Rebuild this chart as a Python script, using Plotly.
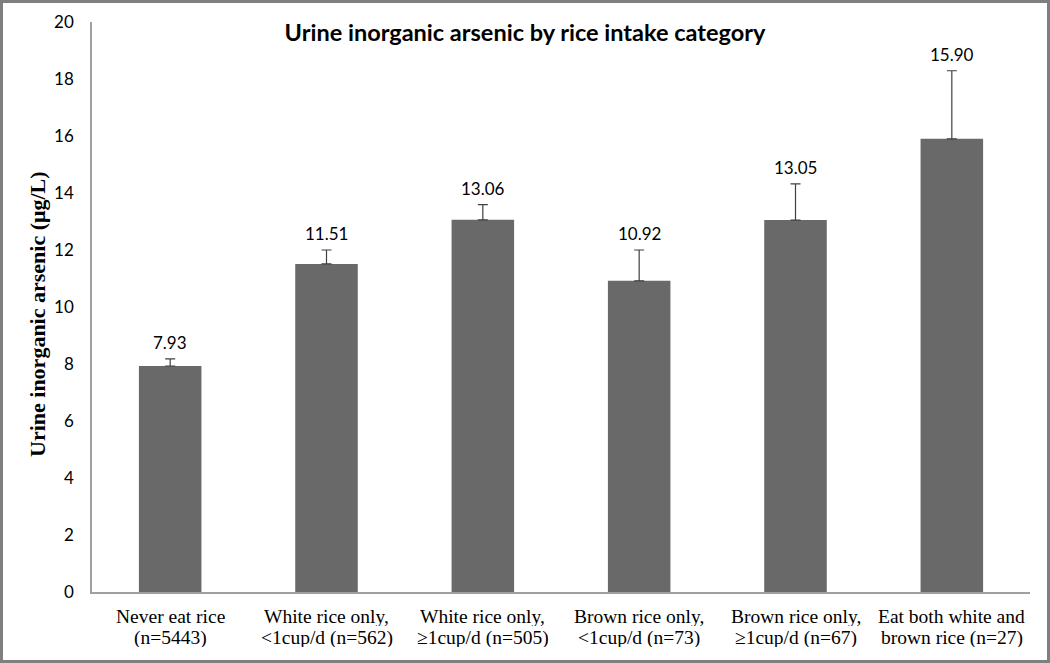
import plotly.graph_objects as go

categories = [
    "Never eat rice<br>(n=5443)",
    "White rice only,<br>&lt;1cup/d (n=562)",
    "White rice only,<br>≥1cup/d (n=505)",
    "Brown rice only,<br>&lt;1cup/d (n=73)",
    "Brown rice only,<br>≥1cup/d (n=67)",
    "Eat both white and<br>brown rice (n=27)",
]
values = [7.93, 11.51, 13.06, 10.92, 13.05, 15.90]
errors_plus = [0.25, 0.49, 0.53, 1.08, 1.27, 2.39]
y_ticks = [0, 2, 4, 6, 8, 10, 12, 14, 16, 18, 20]

W, H = 1050, 663
ML, MR, MT, MB = 92, 20, 22, 71
PW, PH = W - ML - MR, H - MT - MB

SERIF = "Liberation Serif, Times New Roman, serif"
SANS = "Lato, sans-serif"

fig = go.Figure()
fig.add_trace(go.Bar(
    x=categories, y=values,
    marker=dict(color="#696969", line=dict(width=0)),
    error_y=dict(type="data", array=errors_plus, arrayminus=[0] * len(values),
                 symmetric=False, color="#404040", thickness=1.2, width=5),
    hoverinfo="skip",
))

for c, v, e in zip(categories, values, errors_plus):
    fig.add_annotation(x=c, y=v + e, text=f"{v:.2f}", showarrow=False,
                       yanchor="bottom", yshift=4,
                       font=dict(family=SANS, size=17, color="#000000"))

# category labels (two lines each, tight line spacing)
for c in categories:
    l1, l2 = c.split("<br>")
    fig.add_annotation(x=c, y=0, yref="paper", text=l1, showarrow=False,
                       yanchor="middle", yshift=-24, height=19,
                       font=dict(family=SERIF, size=19.5, color="#000000"))
    fig.add_annotation(x=c, y=0, yref="paper", text=l2, showarrow=False,
                       yanchor="middle", yshift=-45, height=19,
                       font=dict(family=SERIF, size=19.5, color="#000000"))

# y-axis title
fig.add_annotation(x=-(ML - 37) / PW, xref="paper", y=(H - MB - 314) / PH, yref="paper",
                   text="<b>Urine inorganic arsenic (μg/L)</b>", textangle=-90,
                   showarrow=False, xanchor="center", yanchor="middle",
                   font=dict(family=SERIF, size=22, color="#000000"))

# outer frame
fig.add_shape(type="rect", xref="paper", yref="paper",
              x0=-(ML - 1.5) / PW, x1=1 + (MR - 1.5) / PW,
              y0=-(MB - 1.5) / PH, y1=1 + (MT - 1.5) / PH,
              line=dict(color="#7f7f7f", width=3), layer="above")

fig.update_layout(
    width=W, height=H,
    margin=dict(l=ML, r=MR, t=MT, b=MB, autoexpand=False),
    paper_bgcolor="white", plot_bgcolor="white",
    bargap=0.6,
    showlegend=False,
    title=dict(text="<b>Urine inorganic arsenic by rice intake category</b>",
               x=(525 - ML) / PW, xref="paper", xanchor="center",
               y=1 - 33 / H, yanchor="middle",
               font=dict(family=SANS, size=23.5, color="#000000")),
    xaxis=dict(showline=True, linecolor="#a0a0a0", linewidth=1.5,
               showgrid=False, ticks="", zeroline=False, showticklabels=False,
               automargin=False),
    yaxis=dict(range=[0, 20], tickvals=y_ticks, showline=True, linecolor="#a0a0a0",
               linewidth=1.5, showgrid=False, zeroline=False, ticks="",
               ticklabelstandoff=13, automargin=False,
               tickfont=dict(family=SANS, size=17, color="#000000")),
)

fig.write_html("out.html", config={"displayModeBar": False},
               post_script="document.body.style.margin='0';document.body.style.overflow='hidden';")
